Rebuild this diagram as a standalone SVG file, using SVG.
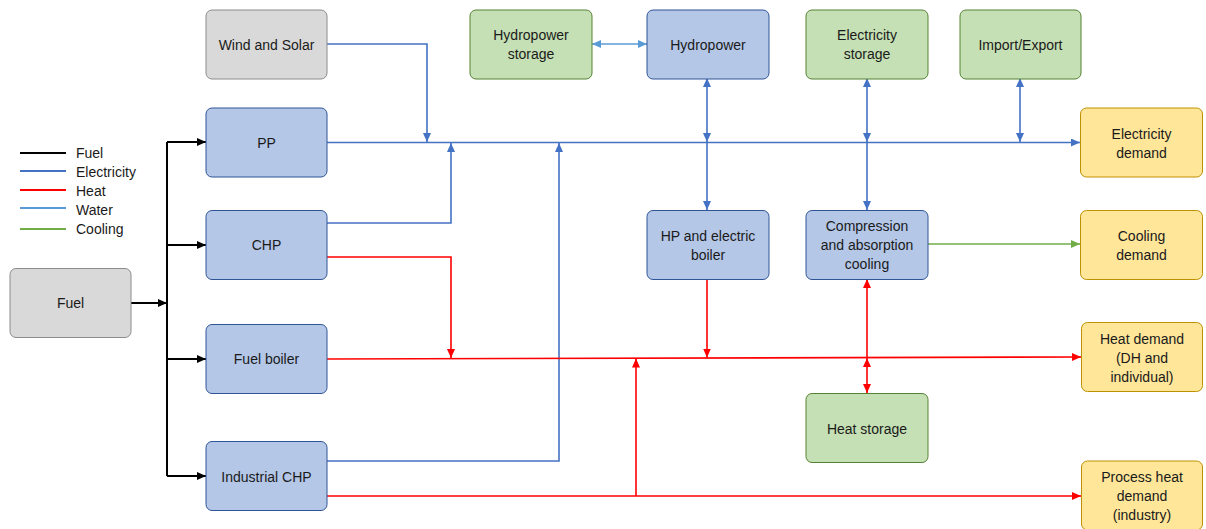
<svg xmlns="http://www.w3.org/2000/svg" width="1206" height="529" viewBox="0 0 1206 529">
<style>
text{font-family:"Liberation Sans",Arial,sans-serif;font-size:14px;fill:#1a1a1a;text-anchor:middle;dominant-baseline:central}
.lg text{text-anchor:start}
.grey{fill:#d9d9d9;stroke:#8c8c8c;stroke-width:1}
.blue{fill:#b4c7e7;stroke:#2f5597;stroke-width:1}
.green{fill:#c5e0b4;stroke:#548235;stroke-width:1}
.yellow{fill:#ffe699;stroke:#bf9000;stroke-width:1}
.fuel{stroke:#000;stroke-width:2;fill:none}
.el{stroke:#4472c4;stroke-width:1.6;fill:none}
.heat{stroke:#ff0000;stroke-width:1.6;fill:none}
.water{stroke:#5b9bd5;stroke-width:1.6;fill:none}
.cool{stroke:#70ad47;stroke-width:1.6;fill:none}
</style>
<defs>
<marker id="aF" markerUnits="userSpaceOnUse" markerWidth="9" markerHeight="8" refX="9" refY="4" orient="auto-start-reverse"><path d="M0,0 L9,4 L0,8 z" fill="#000"/></marker>
<marker id="aE" markerUnits="userSpaceOnUse" markerWidth="9" markerHeight="8" refX="9" refY="4" orient="auto-start-reverse"><path d="M0,0 L9,4 L0,8 z" fill="#4472c4"/></marker>
<marker id="aH" markerUnits="userSpaceOnUse" markerWidth="9" markerHeight="8" refX="9" refY="4" orient="auto-start-reverse"><path d="M0,0 L9,4 L0,8 z" fill="#ff0000"/></marker>
<marker id="aW" markerUnits="userSpaceOnUse" markerWidth="9" markerHeight="8" refX="9" refY="4" orient="auto-start-reverse"><path d="M0,0 L9,4 L0,8 z" fill="#5b9bd5"/></marker>
<marker id="aC" markerUnits="userSpaceOnUse" markerWidth="9" markerHeight="8" refX="9" refY="4" orient="auto-start-reverse"><path d="M0,0 L9,4 L0,8 z" fill="#70ad47"/></marker>
</defs>
<rect width="1206" height="529" fill="#fff"/>

<g id="legend" class="lg">
<line x1="20" y1="153" x2="66" y2="153" class="fuel"/><text x="76" y="153">Fuel</text>
<line x1="20" y1="171" x2="66" y2="171" stroke="#4472c4" stroke-width="2"/><text x="76" y="172">Electricity</text>
<line x1="20" y1="190" x2="66" y2="190" stroke="#ff0000" stroke-width="2"/><text x="76" y="191">Heat</text>
<line x1="20" y1="208" x2="66" y2="208" stroke="#5b9bd5" stroke-width="2"/><text x="76" y="210">Water</text>
<line x1="20" y1="229" x2="66" y2="229" stroke="#70ad47" stroke-width="2"/><text x="76" y="229">Cooling</text>
</g>

<g id="connectors">
<path class="fuel" d="M131,303 H167" marker-end="url(#aF)"/>
<path class="fuel" d="M167,142 V476"/>
<path class="fuel" d="M167,142 H206" marker-end="url(#aF)"/>
<path class="fuel" d="M167,245 H206" marker-end="url(#aF)"/>
<path class="fuel" d="M167,359 H206" marker-end="url(#aF)"/>
<path class="fuel" d="M167,476 H206" marker-end="url(#aF)"/>

<path class="el" d="M327,142.5 H1080" marker-end="url(#aE)"/>
<path class="el" d="M327,44 H427 V142" marker-end="url(#aE)"/>
<path class="el" d="M327,223 H451 V143" marker-end="url(#aE)"/>
<path class="el" d="M327,461 H559 V143" marker-end="url(#aE)"/>
<path class="el" d="M707,78 V142" marker-start="url(#aE)" marker-end="url(#aE)"/>
<path class="el" d="M707,142 V210" marker-end="url(#aE)"/>
<path class="el" d="M867,78 V142" marker-start="url(#aE)" marker-end="url(#aE)"/>
<path class="el" d="M867,142 V210" marker-end="url(#aE)"/>
<path class="el" d="M1020,78 V142" marker-start="url(#aE)" marker-end="url(#aE)"/>

<path class="water" d="M592,44 H647" marker-start="url(#aW)" marker-end="url(#aW)"/>

<path class="cool" d="M928,244 H1080" marker-end="url(#aC)"/>

<path class="heat" d="M327,359 L1081,357" marker-end="url(#aH)"/>
<path class="heat" d="M327,257 H451 V358" marker-end="url(#aH)"/>
<path class="heat" d="M707,279 V357.5" marker-end="url(#aH)"/>
<path class="heat" d="M327,496 H1081" marker-end="url(#aH)"/>
<path class="heat" d="M636,496 V358.5" marker-end="url(#aH)"/>
<path class="heat" d="M867,358 V279" marker-end="url(#aH)"/>
<path class="heat" d="M867,358 V393" marker-start="url(#aH)" marker-end="url(#aH)"/>
</g>

<g id="fuel-node"><rect class="grey" x="10" y="268.5" width="121" height="69" rx="6"/><text x="70.5" y="303">Fuel</text></g>
<g id="wind-solar"><rect class="grey" x="206" y="10" width="121" height="69" rx="6"/><text x="266.5" y="44.5">Wind and Solar</text></g>
<g id="pp"><rect class="blue" x="206" y="108" width="121" height="69" rx="6"/><text x="266.5" y="142.5">PP</text></g>
<g id="chp"><rect class="blue" x="206" y="210.5" width="121" height="69" rx="6"/><text x="266.5" y="245">CHP</text></g>
<g id="fuel-boiler"><rect class="blue" x="206" y="324.5" width="121" height="69" rx="6"/><text x="266.5" y="359">Fuel boiler</text></g>
<g id="industrial-chp"><rect class="blue" x="206" y="441.5" width="121" height="69" rx="6"/><text x="266.5" y="476.5">Industrial CHP</text></g>
<g id="hydropower-storage"><rect class="green" x="470" y="10" width="122" height="69" rx="6"/><text x="531" y="35">Hydropower</text><text x="531" y="54">storage</text></g>
<g id="hydropower"><rect class="blue" x="647" y="10" width="122" height="69" rx="6"/><text x="708" y="44.5">Hydropower</text></g>
<g id="hp-boiler"><rect class="blue" x="647" y="210.5" width="122" height="69" rx="6"/><text x="708" y="236">HP and electric</text><text x="708" y="255">boiler</text></g>
<g id="electricity-storage"><rect class="green" x="806" y="10" width="122" height="69" rx="6"/><text x="867" y="35">Electricity</text><text x="867" y="54">storage</text></g>
<g id="import-export"><rect class="green" x="960" y="10" width="121" height="69" rx="6"/><text x="1020.5" y="44.5">Import/Export</text></g>
<g id="compression"><rect class="blue" x="806" y="210.5" width="122" height="69" rx="6"/><text x="867" y="226">Compression</text><text x="867" y="245">and absorption</text><text x="867" y="264">cooling</text></g>
<g id="heat-storage"><rect class="green" x="806" y="393.5" width="122" height="69" rx="6"/><text x="867" y="429">Heat storage</text></g>
<g id="electricity-demand"><rect class="yellow" x="1080.5" y="108" width="122" height="69" rx="6"/><text x="1141.5" y="133.5">Electricity</text><text x="1141.5" y="152.5">demand</text></g>
<g id="cooling-demand"><rect class="yellow" x="1080.5" y="210.5" width="122" height="69" rx="6"/><text x="1141.5" y="235.5">Cooling</text><text x="1141.5" y="254.5">demand</text></g>
<g id="heat-demand"><rect class="yellow" x="1081.5" y="322.5" width="121" height="69" rx="6"/><text x="1142" y="339">Heat demand</text><text x="1142" y="357.5">(DH and</text><text x="1142" y="376.5">individual)</text></g>
<g id="process-heat-demand"><rect class="yellow" x="1081.5" y="461" width="121" height="69" rx="6"/><text x="1142" y="477">Process heat</text><text x="1142" y="496">demand</text><text x="1142" y="515">(industry)</text></g>
</svg>
